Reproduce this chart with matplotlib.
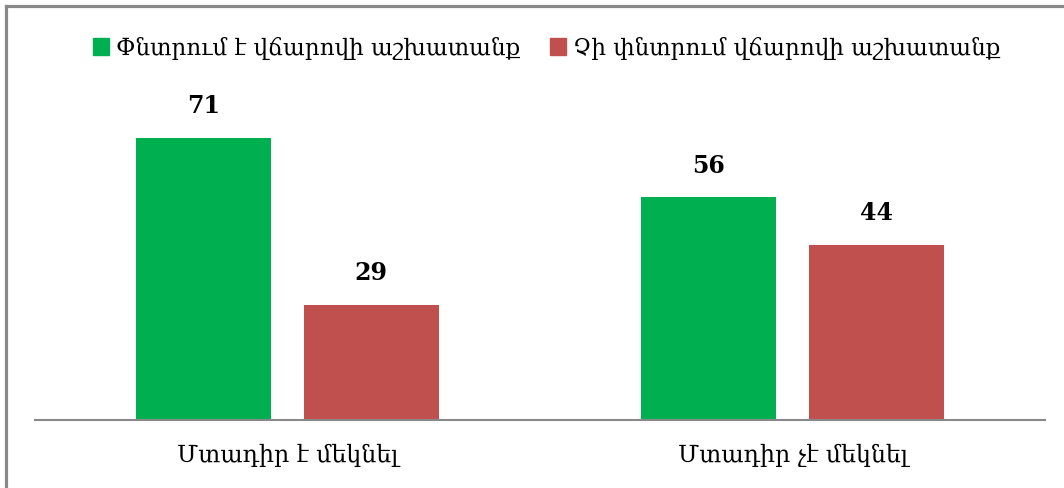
import matplotlib
matplotlib.use("Agg")
import matplotlib.pyplot as plt
import numpy as np
from matplotlib.lines import Line2D
from matplotlib.patches import Patch

categories = ["Մտադիր է մեկնել", "Մտադիր չէ մեկնել"]
series_names = ["Փնտրում է վճարովի աշխատանք", "Չի փնտրում վճարովի աշխատանք"]
looking = [71, 56]
not_looking = [29, 44]

green = "#00B050"
red = "#C0504D"
grey = "#898989"

plt.rcParams["font.family"] = ["DejaVu Serif", "DejaVu Sans"]


def main():
    fig = plt.figure(figsize=(10.64, 4.88), dpi=100)
    ax = fig.add_axes([35 / 1064, 68 / 488, 1010 / 1064, 318 / 488])

    x = np.arange(len(categories))
    w = 0.267
    off = 0.166
    b1 = ax.bar(x - off, looking, w, color=green)
    b2 = ax.bar(x + off, not_looking, w, color=red)

    for bars, vals in ((b1, looking), (b2, not_looking)):
        for r, v in zip(bars, vals):
            ax.text(r.get_x() + r.get_width() / 2, v + 5, str(v),
                    ha="center", va="bottom", fontsize=17, fontweight="bold")

    ax.set_xlim(-0.5, 1.5)
    ax.set_ylim(0, 80)
    ax.set_yticks([])
    ax.set_xticks(x)
    ax.set_xticklabels(categories, fontsize=17)
    ax.tick_params(axis="x", length=0, pad=17)
    for s in ("top", "left", "right"):
        ax.spines[s].set_visible(False)
    ax.spines["bottom"].set_color(grey)
    ax.spines["bottom"].set_linewidth(1.5)

    handles = [Patch(color=green), Patch(color=red)]
    fig.legend(handles, series_names, loc="center", ncol=2,
               bbox_to_anchor=(0.514, 1 - 48 / 488), frameon=False,
               fontsize=16.6, handlelength=0.7, handleheight=0.7,
               handletextpad=0.3, columnspacing=1.3)

    # outer frame (only top and left edges visible)
    fig.add_artist(Line2D([6 / 1064, 1], [1 - 6 / 488, 1 - 6 / 488],
                          transform=fig.transFigure, color=grey, lw=2.3))
    fig.add_artist(Line2D([6 / 1064, 6 / 1064], [0, 1 - 6 / 488],
                          transform=fig.transFigure, color=grey, lw=2.3))

    fig.savefig("out.png", dpi=100)


if __name__ == "__main__":
    main()
